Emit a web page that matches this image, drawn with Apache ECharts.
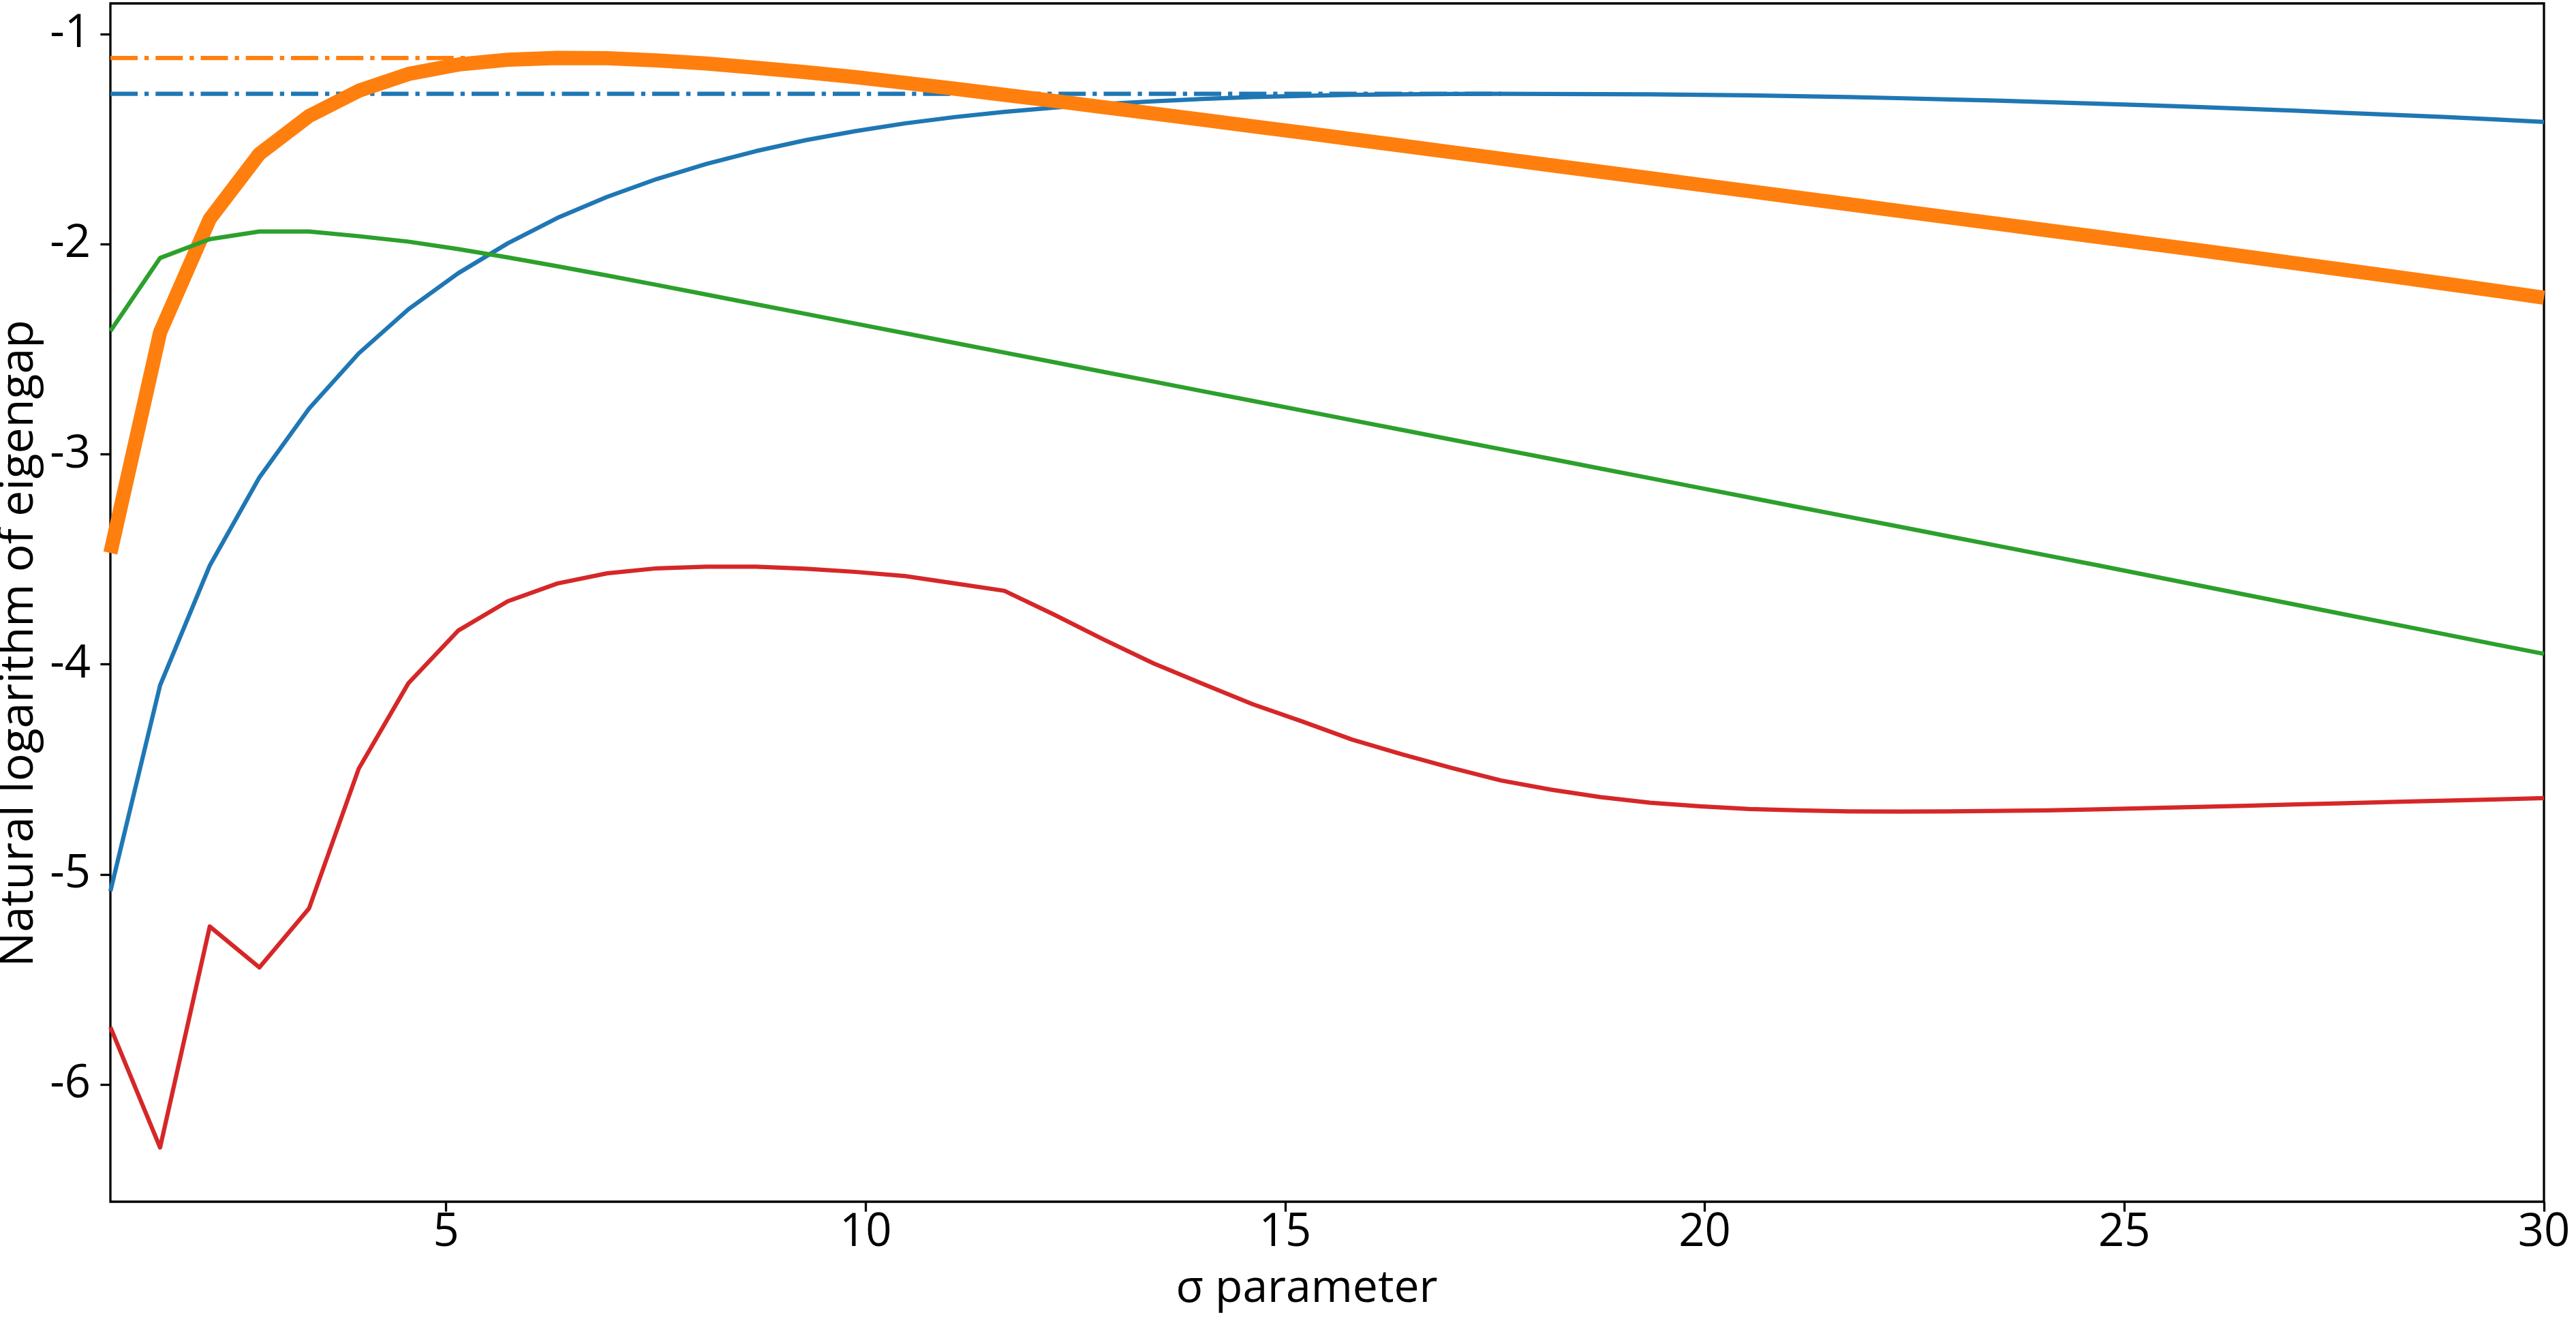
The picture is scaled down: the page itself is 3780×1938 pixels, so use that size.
<!DOCTYPE html>
<html><head><meta charset="utf-8">
<script src="https://cdn.jsdelivr.net/npm/echarts@6/dist/echarts.min.js"></script>
<style>html,body{margin:0;padding:0;background:#fff}#c{width:3780px;height:1938px}</style>
</head><body><div id="c"></div>
<script>
// sigma grid (x values)
const sigma = [1.000,1.592,2.184,2.776,3.367,3.959,4.551,5.143,5.735,6.327,6.918,7.510,8.102,8.694,9.286,9.878,10.469,11.061,11.653,12.245,12.837,13.429,14.020,14.612,15.204,15.796,16.388,16.980,17.571,18.163,18.755,19.347,19.939,20.531,21.122,21.714,22.306,22.898,23.490,24.082,24.673,25.265,25.857,26.449,27.041,27.633,28.224,28.816,29.408,30.000];
const blueGap = [-5.08,-4.10,-3.53,-3.11,-2.783,-2.52,-2.31,-2.139,-1.996,-1.875,-1.775,-1.69,-1.618,-1.557,-1.505,-1.462,-1.425,-1.395,-1.370,-1.350,-1.333,-1.320,-1.309,-1.300,-1.294,-1.289,-1.2865,-1.285,-1.2845,-1.2848,-1.2857,-1.287,-1.289,-1.292,-1.296,-1.300,-1.305,-1.311,-1.317,-1.324,-1.331,-1.339,-1.347,-1.356,-1.365,-1.375,-1.385,-1.395,-1.406,-1.418];
const orangeGap = [-3.47,-2.42,-1.88,-1.57,-1.39,-1.27,-1.19,-1.145,-1.122,-1.1136,-1.115,-1.125,-1.14,-1.16,-1.181,-1.205,-1.232,-1.260,-1.289,-1.318,-1.348,-1.378,-1.408,-1.439,-1.469,-1.500,-1.531,-1.562,-1.593,-1.624,-1.655,-1.686,-1.717,-1.748,-1.779,-1.810,-1.841,-1.872,-1.903,-1.934,-1.965,-1.996,-2.027,-2.059,-2.091,-2.123,-2.155,-2.188,-2.221,-2.255];
const greenGap = [-2.414,-2.066,-1.976,-1.940,-1.940,-1.962,-1.988,-2.023,-2.063,-2.105,-2.149,-2.194,-2.240,-2.286,-2.332,-2.378,-2.424,-2.470,-2.516,-2.562,-2.608,-2.654,-2.700,-2.746,-2.792,-2.838,-2.884,-2.930,-2.976,-3.022,-3.068,-3.114,-3.160,-3.206,-3.252,-3.298,-3.344,-3.390,-3.436,-3.482,-3.528,-3.575,-3.622,-3.669,-3.716,-3.763,-3.810,-3.857,-3.904,-3.950];
const redGap = [-5.727,-6.30,-5.248,-5.443,-5.162,-4.497,-4.09,-3.84,-3.70,-3.615,-3.567,-3.543,-3.535,-3.535,-3.545,-3.56,-3.58,-3.615,-3.65,-3.763,-3.882,-3.995,-4.093,-4.190,-4.272,-4.358,-4.428,-4.493,-4.553,-4.596,-4.632,-4.659,-4.676,-4.689,-4.695,-4.700,-4.701,-4.700,-4.698,-4.695,-4.690,-4.685,-4.679,-4.673,-4.667,-4.661,-4.655,-4.649,-4.643,-4.637];
const xTicks = [5,10,15,20,25,30];
const yTicks = [-6,-5,-4,-3,-2,-1];
const xLimits = [1, 30];
const yLimits = [-6.558, -0.854];
const xTitle = 'σ parameter';
const yTitle = 'Natural logarithm of eigengap';

const FONT = '"Open Sans", "DejaVu Sans", sans-serif';
const pairs = ys => sigma.map((x, i) => [x, ys[i]]);
function peakLine(ys) {
  let k = 0;
  ys.forEach((v, i) => { if (v > ys[k]) k = i; });
  return [[sigma[0], ys[k]], [sigma[k], ys[k]]];
}
const DASHDOT = [40, 10, 6.25, 10];
function curve(ys, color, width) {
  return { type: 'line', data: pairs(ys), showSymbol: false, symbol: 'none', clip: true,
    lineStyle: { color, width, join: 'round', cap: 'butt' }, emphasis: { disabled: true } };
}
function ref(ys, color) {
  return { type: 'line', data: peakLine(ys), showSymbol: false, symbol: 'none', clip: true,
    lineStyle: { color, width: 6.25, type: DASHDOT, cap: 'butt' }, emphasis: { disabled: true } };
}
const chart = echarts.init(document.getElementById('c'), null, { renderer: 'canvas' });
chart.setOption({
  animation: false,
  backgroundColor: '#ffffff',
  grid: { left: 162, right: 47, top: 5, bottom: 175, show: true, borderColor: '#000', borderWidth: 3.3,
          backgroundColor: 'transparent', containLabel: false, outerBoundsMode: 'none' },
  xAxis: {
    type: 'value', min: xLimits[0], max: xLimits[1],
    name: xTitle, nameLocation: 'middle', nameGap: 95,
    nameTextStyle: { fontFamily: FONT, fontSize: 66, color: '#000', padding: [0, 60, 0, 0] },
    axisLine: { show: false }, splitLine: { show: false },
    axisTick: { show: true, inside: false, length: 14.6, lineStyle: { color: '#000', width: 3.3 }, customValues: xTicks },
    axisLabel: { show: true, margin: 12, fontFamily: FONT, fontSize: 67, color: '#000', customValues: xTicks,
                 formatter: v => String(v) }
  },
  yAxis: {
    type: 'value', min: yLimits[0], max: yLimits[1],
    name: yTitle, nameLocation: 'middle', nameGap: 67, nameRotate: 90,
    nameTextStyle: { fontFamily: FONT, fontSize: 68, color: '#000', padding: [0, 120, 0, 0] },
    axisLine: { show: false }, splitLine: { show: false },
    axisTick: { show: true, inside: false, length: 14.6, lineStyle: { color: '#000', width: 3.3 }, customValues: yTicks },
    axisLabel: { show: true, margin: 29, fontFamily: FONT, fontSize: 67, color: '#000', customValues: yTicks,
                 formatter: v => String(v) }
  },
  series: [
    curve(blueGap, '#1f77b4', 6.25),
    ref(blueGap, '#1f77b4'),
    curve(orangeGap, '#ff7f0e', 20.8),
    ref(orangeGap, '#ff7f0e'),
    curve(greenGap, '#2ca02c', 6.25),
    curve(redGap, '#d62728', 6.25)
  ]
});
</script></body></html>
